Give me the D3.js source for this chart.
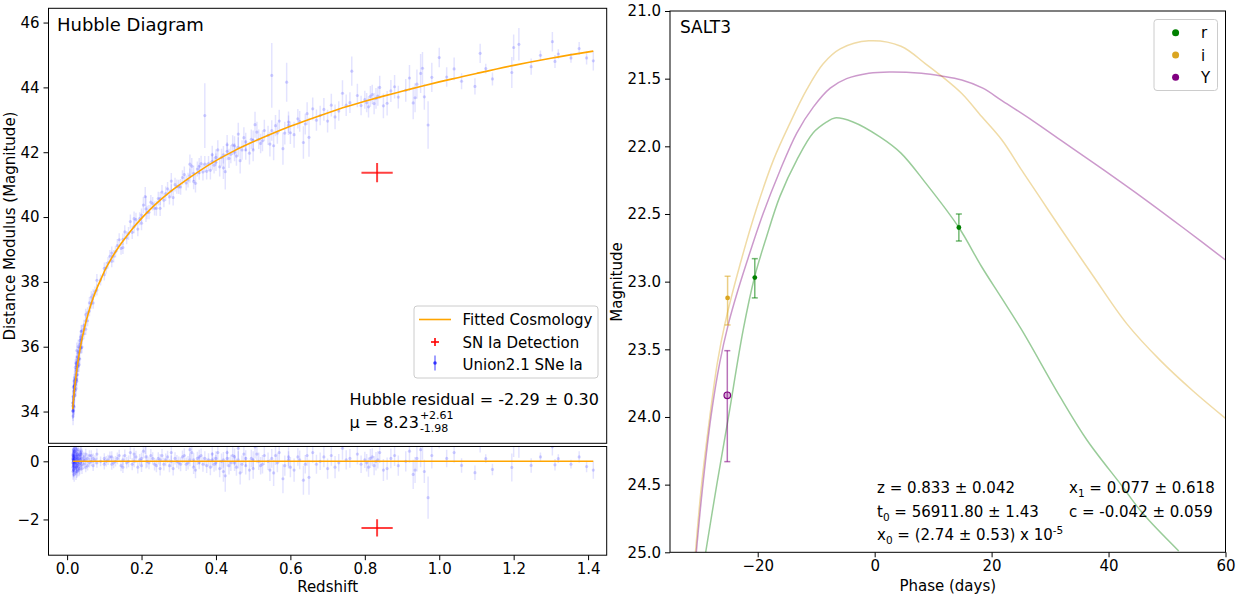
<!DOCTYPE html>
<html>
<head>
<meta charset="utf-8">
<script src="https://cdn.jsdelivr.net/npm/d3@7"></script>
<style>
body {margin: 0; background: #fff;}
svg {font-family: "DejaVu Sans", sans-serif;}
</style>
</head>
<body>
<svg id="fig"></svg>
<script>
// ---- Hubble diagram: fitted cosmology curve
const fitZ = [0.015,0.016,0.017,0.018,0.019,0.02,0.022,0.024,0.026,0.028,0.03,0.035,0.04,0.045,0.05,0.055,0.06,0.07,0.08,0.09,0.1,0.12,0.14,0.16,0.18,0.2,0.22,0.25,0.28,0.3,0.35,0.4,0.45,0.5,0.55,0.6,0.65,0.7,0.75,0.8,0.85,0.9,0.95,1.0,1.05,1.1,1.2,1.3,1.414]
const fitMu = [34.07,34.21,34.34,34.47,34.59,34.70,34.91,35.10,35.28,35.44,35.60,35.94,36.24,36.50,36.74,36.95,37.15,37.50,37.80,38.06,38.32,38.74,39.10,39.41,39.70,39.96,40.20,40.52,40.81,40.98,41.38,41.74,42.05,42.32,42.57,42.80,43.01,43.21,43.40,43.57,43.73,43.88,44.03,44.17,44.30,44.43,44.68,44.90,45.12]

// ---- Union2.1 SNe Ia
const snZ = [0.015,0.015,0.016,0.016,0.016,0.017,0.017,0.017,0.018,0.018,0.018,0.019,0.019,0.019,0.020,0.020,0.020,0.022,0.022,0.022,0.024,0.024,0.024,0.025,0.025,0.026,0.026,0.026,0.028,0.028,0.028,0.030,0.030,0.030,0.032,0.032,0.034,0.034,0.035,0.036,0.036,0.038,0.038,0.040,0.040,0.045,0.045,0.050,0.050,0.055,0.060,0.060,0.065,0.070,0.070,0.075,0.080,0.080,0.090,0.100,0.100,
  0.110,0.120,0.120,0.130,0.140,0.145,0.150,0.160,0.170,0.180,0.185,0.190,0.200,0.205,0.210,0.212,0.220,0.230,0.240,0.250,0.255,0.260,0.270,0.280,0.285,0.290,0.300,
  0.310,0.320,0.330,0.335,0.340,0.350,0.355,0.360,0.370,0.375,0.380,0.390,0.395,0.400,0.410,0.420,0.425,0.430,0.440,0.450,0.455,0.460,0.470,0.480,0.490,0.500,0.510,0.520,0.540,0.550,0.555,0.560,0.580,0.590,0.595,0.600,
  0.620,0.640,0.650,0.660,0.680,0.700,0.710,0.730,0.740,0.760,0.765,0.790,0.800,0.810,0.820,0.830,0.840,0.850,0.870,0.890,0.920,0.930,0.940,0.950,0.960,0.970,0.980,1.000,
  1.020,1.040,1.060,1.096,1.110,1.125,1.143,1.195,1.200,1.214,1.247,1.272,1.304,1.311,1.320,1.354,1.376,1.396,1.414,
  0.015,0.016,0.017,0.018,0.019,0.020,0.022,0.024,0.025,0.026,0.028,0.030,0.032,0.035,0.038,0.040,0.045,0.050,0.055,0.065,
  0.105,0.115,0.125,0.135,0.150,0.155,0.165,0.175,0.180,0.195,0.200,0.215,0.225,0.235,0.245,0.250,0.265,0.275,0.280,0.295,
  0.305,0.315,0.325,0.330,0.340,0.345,0.355,0.365,0.370,0.385,0.390,0.400,0.405,0.415,0.420,0.430,0.435,0.445,0.450,0.460,0.465,0.475,0.480,0.495,0.500,0.505,0.515,0.525,0.530,0.545,0.550,0.565,0.570,0.585,0.595,
  0.610,0.625,0.635,0.645,0.670,0.690,0.720,0.750,0.780,0.805,0.815,0.825,0.835,0.860,0.880,0.910,0.935,0.955]
const snMu = [34.02,34.17,34.01,34.46,33.86,34.39,34.74,34.19,34.62,34.17,34.77,34.54,34.79,34.14,34.70,35.05,34.50,35.01,34.66,35.36,35.00,35.30,34.70,35.24,35.49,35.13,35.43,35.88,35.39,35.69,35.14,35.60,35.40,36.00,35.84,35.64,36.07,35.62,35.99,35.95,36.30,36.22,35.97,36.24,36.49,36.40,36.65,36.79,36.54,37.05,37.10,37.35,37.33,37.60,37.35,37.70,37.75,38.05,38.06,38.42,38.22,
  38.59,38.64,38.89,38.93,39.30,39.03,39.31,39.36,39.86,39.70,39.92,39.63,40.06,40.37,40.63,40.25,40.15,40.41,40.27,40.57,40.77,40.52,40.87,40.81,40.60,41.00,40.93,
  41.22,41.05,41.28,41.57,41.10,41.48,41.37,41.65,43.13,41.41,41.65,41.92,41.60,41.84,41.55,41.92,41.40,42.23,41.94,42.20,41.88,42.56,42.07,42.32,41.97,42.37,42.62,42.27,42.52,44.37,42.20,42.82,42.11,44.16,42.83,42.60,
  43.03,42.87,42.46,43.34,43.13,42.96,43.45,43.27,43.82,43.53,44.50,43.44,43.62,43.40,43.78,43.66,44.00,43.43,43.89,43.70,44.29,43.52,44.10,44.43,43.71,42.84,44.31,44.92,
  44.32,44.57,44.19,44.03,45.05,44.58,44.26,44.46,45.23,45.33,44.64,44.99,45.41,44.80,45.03,44.91,45.20,44.91,44.82,
  34.27,34.26,34.04,34.47,34.94,34.80,34.86,35.50,34.99,34.93,35.54,35.80,35.44,36.19,36.47,35.99,36.55,36.99,36.80,37.53,
  38.43,38.79,38.79,39.12,39.06,39.54,39.49,39.53,39.95,39.95,39.81,40.14,40.46,40.27,40.57,40.27,40.72,40.62,41.11,40.94,
  40.93,41.31,41.14,41.63,41.35,41.04,41.57,41.39,41.63,41.44,41.72,41.69,42.07,41.84,41.52,42.03,41.81,42.22,42.00,42.16,41.74,42.45,42.07,42.40,42.07,42.85,42.40,42.35,42.67,42.25,42.67,42.59,42.96,42.59,42.93,
  42.54,42.95,42.30,43.19,42.99,43.32,43.09,43.45,43.75,43.53,43.72,43.50,43.73,43.51,44.02,43.91,43.68,44.59]
const snErr = [0.25,0.20,0.30,0.22,0.28,0.20,0.25,0.22,0.21,0.26,0.24,0.20,0.20,0.25,0.19,0.22,0.21,0.20,0.23,0.25,0.19,0.20,0.24,0.18,0.21,0.20,0.19,0.25,0.18,0.20,0.22,0.17,0.19,0.22,0.18,0.18,0.19,0.20,0.17,0.17,0.20,0.18,0.18,0.16,0.19,0.17,0.18,0.16,0.18,0.17,0.16,0.18,0.16,0.17,0.18,0.16,0.17,0.19,0.17,0.18,0.18,
  0.18,0.19,0.20,0.18,0.20,0.19,0.18,0.20,0.22,0.20,0.21,0.22,0.20,0.25,0.30,0.40,0.22,0.21,0.23,0.20,0.22,0.22,0.21,0.20,0.24,0.21,0.22,
  0.22,0.23,0.22,0.25,0.24,0.23,0.22,0.24,1.00,0.25,0.23,0.28,0.26,0.25,0.30,0.27,0.55,0.30,0.28,0.29,0.30,0.35,0.30,0.28,0.35,0.30,0.32,0.30,0.30,1.00,0.45,0.33,0.50,0.60,0.30,0.35,
  0.30,0.32,0.60,0.35,0.30,0.35,0.35,0.30,0.40,0.32,0.45,0.30,0.28,0.33,0.30,0.32,0.36,0.38,0.34,0.35,0.40,0.50,0.45,0.60,0.40,0.73,0.45,0.30,
  0.30,0.35,0.25,0.25,0.30,0.15,0.20,0.48,0.40,0.50,0.25,0.15,0.30,0.20,0.15,0.15,0.20,0.20,0.30,
  0.22,0.20,0.24,0.20,0.22,0.20,0.19,0.23,0.20,0.22,0.18,0.19,0.21,0.19,0.20,0.19,0.17,0.18,0.17,0.18,
  0.18,0.19,0.19,0.20,0.20,0.21,0.20,0.21,0.22,0.20,0.22,0.21,0.22,0.22,0.21,0.24,0.22,0.23,0.25,0.22,
  0.24,0.25,0.23,0.30,0.24,0.28,0.25,0.26,0.25,0.28,0.26,0.27,0.30,0.27,0.35,0.28,0.30,0.30,0.28,0.30,0.40,0.32,0.30,0.30,0.35,0.40,0.30,0.32,0.33,0.38,0.32,0.33,0.35,0.35,0.33,
  0.40,0.32,0.50,0.35,0.33,0.35,0.38,0.33,0.36,0.30,0.32,0.33,0.30,0.38,0.36,0.35,0.45,0.50]
const snRes = [-0.05,0.10,-0.20,0.25,-0.35,0.05,0.40,-0.15,0.15,-0.30,0.30,-0.05,0.20,-0.45,0.00,0.35,-0.20,0.10,-0.25,0.45,-0.10,0.20,-0.40,0.05,0.30,-0.15,0.15,0.60,-0.05,0.25,-0.30,0.00,-0.20,0.40,0.10,-0.10,0.20,-0.25,0.05,-0.05,0.30,0.10,-0.15,0.00,0.25,-0.10,0.15,0.05,-0.20,0.10,-0.05,0.20,0.00,0.10,-0.15,0.05,-0.05,0.25,0.00,0.10,-0.10,
  0.05,-0.10,0.15,0.00,0.20,-0.15,0.05,-0.05,0.30,0.00,0.15,-0.20,0.10,0.35,0.55,0.15,-0.05,0.10,-0.15,0.05,0.20,-0.10,0.15,0.00,-0.25,0.10,-0.05,
  0.15,-0.10,0.05,0.30,-0.20,0.10,-0.05,0.20,1.60,-0.15,0.05,0.25,-0.10,0.10,-0.25,0.05,-0.50,0.30,-0.05,0.15,-0.20,0.45,-0.10,0.10,-0.30,0.05,0.25,-0.15,0.00,1.80,-0.40,0.20,-0.60,1.40,0.05,-0.20,
  0.15,-0.10,-0.55,0.30,0.00,-0.25,0.20,-0.05,0.45,0.10,1.05,-0.10,0.05,-0.20,0.15,0.00,0.30,-0.30,0.10,-0.15,0.35,-0.45,0.10,0.40,-0.35,-1.25,0.20,0.75,
  0.10,0.30,-0.14,-0.39,0.60,0.09,-0.28,-0.21,0.55,0.62,-0.14,0.15,0.50,-0.12,0.09,-0.10,0.15,-0.18,-0.30,
  0.20,0.05,-0.30,0.00,0.35,0.10,-0.05,0.40,-0.20,-0.35,0.10,0.20,-0.30,0.25,0.35,-0.25,0.05,0.25,-0.15,0.20,
  0.00,0.15,-0.05,0.10,-0.20,0.20,0.00,-0.10,0.25,0.05,-0.15,0.00,0.20,-0.10,0.10,-0.25,0.05,-0.15,0.30,0.00,
  -0.10,0.20,-0.05,0.40,0.05,-0.30,0.15,-0.10,0.10,-0.20,0.05,-0.05,0.30,0.00,-0.35,0.10,-0.15,0.20,-0.05,0.05,-0.40,0.25,-0.15,0.10,-0.25,0.50,0.00,-0.10,0.20,-0.30,0.10,-0.05,0.30,-0.15,0.15,
  -0.30,0.05,-0.65,0.20,-0.10,0.15,-0.20,0.05,0.25,-0.05,0.10,-0.15,0.05,-0.25,0.20,0.00,-0.30,0.55]

// ---- the SN Ia detection
const detZ = [0.833], detZErr = [0.042]
const detMu = [41.37], detMuErr = [0.30]
const detRes = [-2.29], detResErr = [0.30]

// ---- SALT3 model light curves
const rPhase = [-28.9,-27.0,-25.0,-22.5,-20.5,-18.5,-16.2,-13.3,-10.5,-8.2,-6.8,-3.7,0.9,4.5,8.7,14.4,18.3,21.7,25.2,31.7,36.3,42.3,45.8,52.0]
const rMag = [25.0,24.5,24.0,23.36,22.96,22.67,22.37,22.10,21.90,21.82,21.79,21.82,21.93,22.05,22.27,22.60,22.89,23.12,23.36,23.85,24.17,24.51,24.71,24.99]
const iPhase = [-30.65,-29.6,-28.2,-26.9,-25.6,-23.0,-20.2,-17.3,-14.5,-11.6,-8.8,-5.9,-1.0,4.5,8.7,11.4,14.9,18.3,21.7,25.2,28.6,31.7,37.4,43.1,48.8,54.5,60.0]
const iMag = [25.0,24.5,24.0,23.6,23.31,22.87,22.46,22.10,21.83,21.58,21.39,21.28,21.22,21.26,21.39,21.48,21.61,21.78,21.95,22.18,22.40,22.60,22.96,23.31,23.58,23.81,24.01]
const yPhase = [-30.5,-29.5,-28.0,-26.5,-25.0,-23.5,-21.9,-19.1,-16.2,-13.3,-10.5,-7.6,-4.8,-1.0,2.5,8.0,11.4,14.9,18.5,21.7,27.0,32.0,37.0,42.3,46.8,52.7,60.0]
const yMag = [25.0,24.55,24.0,23.6,23.31,23.08,22.86,22.50,22.18,21.90,21.71,21.57,21.50,21.46,21.45,21.46,21.48,21.51,21.57,21.66,21.81,21.96,22.11,22.27,22.41,22.60,22.84]

// ---- photometry
const rObsPhase = [-20.5, 14.4], rObsMag = [22.97, 22.60], rObsLo = [22.83, 22.50], rObsHi = [23.12, 22.70]
const iObsPhase = [-25.15], iObsMag = [23.12], iObsLo = [22.96], iObsHi = [23.32]
const yObsPhase = [-25.2], yObsMag = [23.84], yObsLo = [23.51], yObsHi = [24.33]

const bands = ['r', 'i', 'Y']
const bandColors = ['green', 'goldenrod', 'purple']

const hubbleTicks = [34, 36, 38, 40, 42, 44, 46]
const residTicks = [-2, 0]
const zTicks = [0, 0.2, 0.4, 0.6, 0.8, 1.0, 1.2, 1.4]
const magTicks = [21, 21.5, 22, 22.5, 23, 23.5, 24, 24.5, 25]
const phaseTicks = [-20, 0, 20, 40, 60]

const W = 1250, H = 600
const fontFam = '"DejaVu Sans", sans-serif'

let svg = d3.select('#fig').attr('width', W).attr('height', H)
svg.append('rect').attr('width', W).attr('height', H).attr('fill', '#fff')
let defs = svg.append('defs')

let hx = d3.scaleLinear().domain([-0.05, 1.45]).range([48.5, 606.7])
let hy = d3.scaleLinear().domain([33.02, 46.44]).range([443.3, 8.3])
let ry = d3.scaleLinear().domain([-3.23, 0.51]).range([555.2, 446.5])
let px = d3.scaleLinear().domain([-35, 60]).range([670, 1225.5])
let py = d3.scaleLinear().domain([21, 25]).range([11, 552.3])

function panel(id, xs, ys){
    let [x0, x1] = xs.range(), [y1, y0] = ys.range()
    let top = Math.min(y0, y1), bot = Math.max(y0, y1)
    defs.append('clipPath').attr('id', id)
        .append('rect').attr('x', x0).attr('y', top).attr('width', x1 - x0).attr('height', bot - top)
    let g = svg.append('g')
    let inner = g.append('g').attr('clip-path', `url(#${id})`)
    g.append('rect').attr('class', 'frame')
        .attr('x', x0).attr('y', top).attr('width', x1 - x0).attr('height', bot - top)
        .attr('fill', 'none').attr('stroke', '#000').attr('stroke-width', 1)
    return {g, inner}
}

function styleAxis(a){
    a.select('.domain').remove()
    a.selectAll('line').attr('stroke', '#000')
    a.selectAll('text').attr('font-size', 15).attr('font-family', fontFam).attr('fill', '#000')
}

let sn = snZ.map((z, i) => ({z, mu: snMu[i], err: snErr[i], res: snRes[i]}))

// ---------- Hubble diagram
let main = panel('clipMain', hx, hy)
main.inner.selectAll('line.sn').data(sn).join('line')
    .attr('x1', d => hx(d.z)).attr('x2', d => hx(d.z))
    .attr('y1', d => hy(d.mu - d.err)).attr('y2', d => hy(d.mu + d.err))
    .attr('stroke', 'blue').attr('stroke-opacity', 0.11).attr('stroke-width', 1.5)
main.inner.selectAll('circle.sn').data(sn).join('circle')
    .attr('cx', d => hx(d.z)).attr('cy', d => hy(d.mu)).attr('r', 1.6)
    .attr('fill', 'blue').attr('fill-opacity', 0.17)
main.inner.append('path')
    .datum(fitZ.map((z, i) => [z, fitMu[i]]))
    .attr('fill', 'none').attr('stroke', 'orange').attr('stroke-width', 1.6)
    .attr('d', d3.line().x(d => hx(d[0])).y(d => hy(d[1])).curve(d3.curveMonotoneX))

function cross(g, xs, ys, x, xe, y, ye){
    g.append('line').attr('x1', xs(x - xe)).attr('x2', xs(x + xe)).attr('y1', ys(y)).attr('y2', ys(y))
        .attr('stroke', 'red').attr('stroke-opacity', 0.75).attr('stroke-width', 2)
    g.append('line').attr('x1', xs(x)).attr('x2', xs(x)).attr('y1', ys(y - ye)).attr('y2', ys(y + ye))
        .attr('stroke', 'red').attr('stroke-opacity', 0.75).attr('stroke-width', 2)
}
cross(main.inner, hx, hy, detZ[0], detZErr[0], detMu[0], detMuErr[0])

main.g.append('g').attr('transform', `translate(${hx.range()[0]},0)`)
    .call(d3.axisLeft(hy).tickValues(hubbleTicks).tickFormat(d3.format('d')).tickSize(5).tickPadding(4))
    .call(styleAxis)

main.g.append('text').attr('x', 57).attr('y', 31).attr('font-size', 18).text('Hubble Diagram')

// legend
let lg = main.g.append('g')
lg.append('rect').attr('x', 414).attr('y', 306).attr('width', 184).attr('height', 72).attr('rx', 3)
    .attr('fill', '#fff').attr('fill-opacity', 0.8).attr('stroke', '#ccc')
lg.append('line').attr('x1', 419).attr('x2', 451).attr('y1', 319.5).attr('y2', 319.5)
    .attr('stroke', 'orange').attr('stroke-width', 1.6)
lg.append('line').attr('x1', 431).attr('x2', 439).attr('y1', 342).attr('y2', 342).attr('stroke', 'red').attr('stroke-opacity', 0.8).attr('stroke-width', 2)
lg.append('line').attr('x1', 435).attr('x2', 435).attr('y1', 338).attr('y2', 346).attr('stroke', 'red').attr('stroke-opacity', 0.8).attr('stroke-width', 2)
lg.append('line').attr('x1', 435).attr('x2', 435).attr('y1', 355.5).attr('y2', 370.5).attr('stroke', 'blue').attr('stroke-opacity', 0.5).attr('stroke-width', 1.5)
lg.append('circle').attr('cx', 435).attr('cy', 363).attr('r', 1.8).attr('fill', 'blue').attr('fill-opacity', 0.7)
lg.selectAll('text').data(['Fitted Cosmology', 'SN Ia Detection', 'Union2.1 SNe Ia']).join('text')
    .attr('x', 462.5).attr('y', (d, i) => 325 + i * 22.5).attr('font-size', 15).text(d => d)

main.g.append('text').attr('x', 349.5).attr('y', 405).attr('font-size', 16).text('Hubble residual = -2.29 ± 0.30')
let muT = main.g.append('text').attr('x', 349.5).attr('y', 428).attr('font-size', 16).text('μ = 8.23')
let muEnd = 349.5 + muT.node().getComputedTextLength() + 1
main.g.append('text').attr('x', muEnd).attr('y', 419).attr('font-size', 11).text('+2.61')
main.g.append('text').attr('x', muEnd).attr('y', 432).attr('font-size', 11).text('-1.98')

// ---------- residuals
let resid = panel('clipRes', hx, ry)
resid.inner.selectAll('line.sn').data(sn).join('line')
    .attr('x1', d => hx(d.z)).attr('x2', d => hx(d.z))
    .attr('y1', d => ry(d.res - d.err)).attr('y2', d => ry(d.res + d.err))
    .attr('stroke', 'blue').attr('stroke-opacity', 0.11).attr('stroke-width', 1.5)
resid.inner.selectAll('circle.sn').data(sn).join('circle')
    .attr('cx', d => hx(d.z)).attr('cy', d => ry(d.res)).attr('r', 1.6)
    .attr('fill', 'blue').attr('fill-opacity', 0.17)
resid.inner.append('path')
    .datum(d3.extent(fitZ))
    .attr('fill', 'none').attr('stroke', 'orange').attr('stroke-width', 1.6)
    .attr('d', d3.line().x(d => hx(d)).y(() => ry(0)))
cross(resid.inner, hx, ry, detZ[0], detZErr[0], detRes[0], detResErr[0])

resid.g.append('g').attr('transform', `translate(${hx.range()[0]},0)`)
    .call(d3.axisLeft(ry).tickValues(residTicks).tickFormat(d3.format('d')).tickSize(5).tickPadding(4))
    .call(styleAxis)
resid.g.append('g').attr('transform', `translate(0,${ry.range()[0]})`)
    .call(d3.axisBottom(hx).tickValues(zTicks).tickFormat(d3.format('.1f')).tickSize(5).tickPadding(3))
    .call(styleAxis)

svg.append('text').attr('transform', 'translate(15,226) rotate(-90)').attr('text-anchor', 'middle')
    .attr('font-size', 15).text('Distance Modulus (Magnitude)')
svg.append('text').attr('x', d3.mean(hx.range())).attr('y', 592).attr('text-anchor', 'middle')
    .attr('font-size', 15).text('Redshift')

// ---------- SALT3 light curves
let lc = panel('clipLc', px, py)
let curves = [[rPhase, rMag], [iPhase, iMag], [yPhase, yMag]]
curves.forEach(([ph, mg], k) => {
    lc.inner.append('path')
        .datum(ph.map((p, i) => [p, mg[i]]))
        .attr('fill', 'none').attr('stroke', bandColors[k]).attr('stroke-opacity', 0.4).attr('stroke-width', 1.5)
        .attr('d', d3.line().x(d => px(d[0])).y(d => py(d[1])).curve(d3.curveCatmullRom.alpha(0.5)))
})

let obs = [
    {ph: rObsPhase, mg: rObsMag, lo: rObsLo, hi: rObsHi},
    {ph: iObsPhase, mg: iObsMag, lo: iObsLo, hi: iObsHi},
    {ph: yObsPhase, mg: yObsMag, lo: yObsLo, hi: yObsHi}
]
obs.forEach((o, k) => {
    let c = bandColors[k]
    o.ph.forEach((p, i) => {
        let x = px(p)
        let eb = lc.inner.append('g').attr('stroke', c).attr('stroke-opacity', 0.55).attr('stroke-width', 1.5)
        eb.append('line').attr('x1', x).attr('x2', x).attr('y1', py(o.lo[i])).attr('y2', py(o.hi[i]))
        eb.append('line').attr('x1', x - 3).attr('x2', x + 3).attr('y1', py(o.lo[i])).attr('y2', py(o.lo[i]))
        eb.append('line').attr('x1', x - 3).attr('x2', x + 3).attr('y1', py(o.hi[i])).attr('y2', py(o.hi[i]))
        if (bands[k] === 'Y') {
            lc.inner.append('circle').attr('cx', x).attr('cy', py(o.mg[i])).attr('r', 3.3)
                .attr('fill', c).attr('fill-opacity', 0.3).attr('stroke', c).attr('stroke-width', 1.2)
        } else {
            lc.inner.append('circle').attr('cx', x).attr('cy', py(o.mg[i])).attr('r', 2.4).attr('fill', c)
        }
    })
})

lc.g.append('g').attr('transform', `translate(${px.range()[0]},0)`)
    .call(d3.axisLeft(py).tickValues(magTicks).tickFormat(d3.format('.1f')).tickSize(5).tickPadding(4))
    .call(styleAxis)
lc.g.append('g').attr('transform', `translate(0,${py.range()[1]})`)
    .call(d3.axisBottom(px).tickValues(phaseTicks).tickFormat(d3.format('d')).tickSize(5).tickPadding(3))
    .call(styleAxis)

svg.append('text').attr('transform', 'translate(622,282) rotate(-90)').attr('text-anchor', 'middle')
    .attr('font-size', 15).text('Magnitude')
svg.append('text').attr('x', d3.mean(px.range())).attr('y', 591).attr('text-anchor', 'middle')
    .attr('font-size', 15).text('Phase (days)')

lc.g.append('text').attr('x', 680).attr('y', 33).attr('font-size', 17).text('SALT3')

// legend
let lg2 = lc.g.append('g')
lg2.append('rect').attr('x', 1154).attr('y', 19.5).attr('width', 63.5).attr('height', 71).attr('rx', 3)
    .attr('fill', '#fff').attr('fill-opacity', 0.8).attr('stroke', '#ccc')
bands.forEach((b, k) => {
    let y = 32.7 + k * 22.3
    lg2.append('circle').attr('cx', 1175.6).attr('cy', y).attr('r', 3.5).attr('fill', bandColors[k])
    lg2.append('text').attr('x', 1201).attr('y', y + 5.5).attr('font-size', 15).text(b)
})

// fit parameters
function param(x, y, parts){
    let t = lc.g.append('text').attr('x', x).attr('y', y).attr('font-size', 15)
    parts.forEach(p => {
        t.append('tspan').attr('dy', p.dy || 0).attr('font-size', p.s || 15).text(p.t)
    })
}
param(877, 493, [{t: 'z = 0.833 ± 0.042'}])
param(877, 517, [{t: 't'}, {t: '0', s: 10.5, dy: 4}, {t: ' = 56911.80 ± 1.43', dy: -4}])
param(877, 540, [{t: 'x'}, {t: '0', s: 10.5, dy: 4}, {t: ' = (2.74 ± 0.53) x 10', dy: -4}, {t: '-5', s: 10.5, dy: -6}])
param(1069, 493, [{t: 'x'}, {t: '1', s: 10.5, dy: 4}, {t: ' = 0.077 ± 0.618', dy: -4}])
param(1069, 517, [{t: 'c = -0.042 ± 0.059'}])
</script>
</body>
</html>
